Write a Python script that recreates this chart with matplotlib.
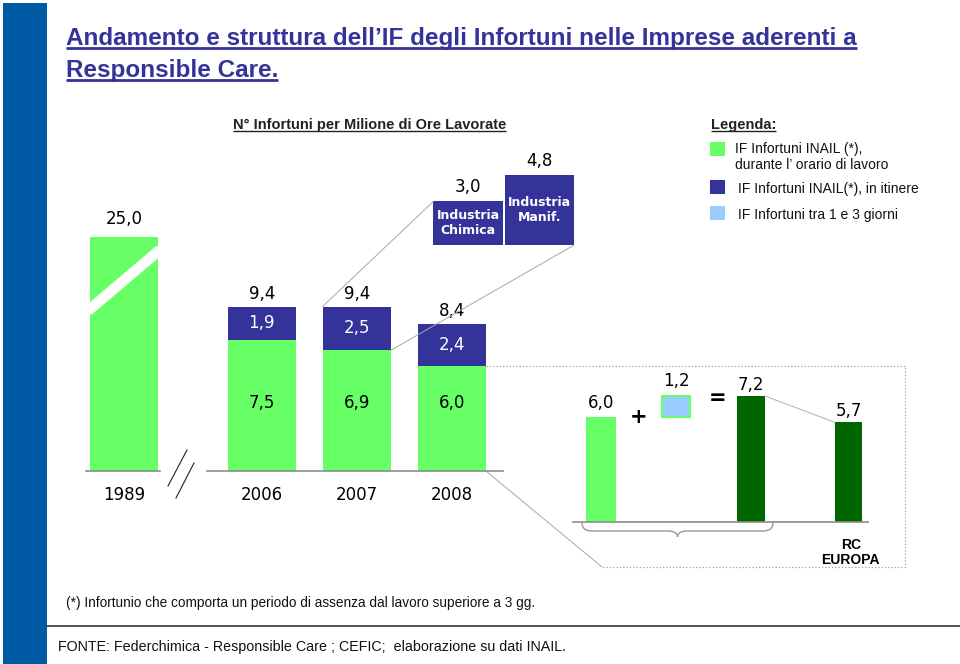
import matplotlib
matplotlib.use("Agg")
import matplotlib.pyplot as plt
from matplotlib.patches import Rectangle, ConnectionPatch, PathPatch
from matplotlib.path import Path

W, H = 960, 664

# --- data -----------------------------------------------------------------
years = ["1989", "2006", "2007", "2008"]
if_lavoro = [25.0, 7.5, 6.9, 6.0]       # IF INAIL durante l'orario di lavoro
if_itinere = [0.0, 1.9, 2.5, 2.4]       # IF INAIL in itinere
settori = ["Industria\nChimica", "Industria\nManif."]
settori_if = [3.0, 4.8]
rc_values = [6.0, 1.2, 7.2, 5.7]        # 2008 lavoro + 1-3 giorni = totale, RC Europa

legend_items = [
    "IF Infortuni INAIL (*),\ndurante l\u2019 orario di lavoro",
    "IF Infortuni INAIL(*), in itinere",
    "IF Infortuni tra 1 e 3 giorni",
]

LGREEN, NAVY, DGREEN, LBLUE = "#66ff66", "#333399", "#006600", "#99ccff"
STRIP, GRAY = "#005ba4", "#8c8c8c"
NUM = dict(family="DejaVu Sans", fontsize=12, ha="center")
NARROW = "Liberation Sans"
S = 17.5  # pixel per unit on the value axis


def fmt(v):
    return f"{v:.1f}".replace(".", ",")


def px_axes(x0, y0, x1, y1):
    a = fig.add_axes([x0 / W, 1 - y1 / H, (x1 - x0) / W, (y1 - y0) / H])
    a.axis("off")
    return a


fig = plt.figure(figsize=(W / 100, H / 100), dpi=100)
ov = fig.add_axes([0, 0, 1, 1])
ov.set_xlim(0, W)
ov.set_ylim(H, 0)
ov.axis("off")

# slide decoration
ov.add_patch(Rectangle((3, 3), 44, H, color=STRIP, lw=0))
ov.plot([47, W], [626, 626], color="#333333", lw=1.2)

titles = [
    ov.text(66, 44.5, "Andamento e struttura dell\u2019IF degli Infortuni nelle Imprese aderenti a",
            family=NARROW, fontsize=17.5, fontweight="bold", color=NAVY, va="baseline"),
    ov.text(66, 76.5, "Responsible Care.", family=NARROW, fontsize=17.5,
            fontweight="bold", color=NAVY, va="baseline"),
]
subs = [
    ov.text(233, 128.5, "N\u00b0 Infortuni per Milione di Ore Lavorate", family=NARROW,
            fontsize=10.5, fontweight="bold", color="#222222", va="baseline"),
    ov.text(711, 128.5, "Legenda:", family=NARROW, fontsize=10.5,
            fontweight="bold", color="#222222", va="baseline"),
]

# legend (multi-line text: baseline refers to the last line)
for (y0, col), (tx, ty), label in zip(
        [(142, LGREEN), (180, NAVY), (206, LBLUE)],
        [(735, 169), (738, 192.5), (738, 219)], legend_items):
    ov.add_patch(Rectangle((710, y0), 15, 14, color=col, lw=0))
    ov.text(tx, ty, label, family=NARROW, fontsize=10, color="#111111",
            va="baseline", linespacing=1.2)

ov.text(66, 603, "(*) Infortunio che comporta un periodo di assenza dal lavoro superiore a 3 gg.",
        family=NARROW, fontsize=9.8, color="#111111", va="center")
ov.text(58, 647, "FONTE: Federchimica - Responsible Care ; CEFIC;  elaborazione su dati INAIL.",
        family=NARROW, fontsize=10.3, color="#111111", va="center")

# --- main bars: 1989, 2006-2008 ---------------------------------------------
ax = px_axes(40, 237, 560, 471)
ax.set_xlim((40 - 124) / 95, (560 - 124) / 95)
ax.set_ylim(0, (471 - 237) / S)
pos = [0, 1.45, 2.45, 3.45]
bw = 0.72
ax.bar(pos, if_lavoro, width=bw, color=LGREEN)
ax.bar(pos[1:], if_itinere[1:], bottom=if_lavoro[1:], width=bw, color=NAVY)

# axis break on the 1989 bar
ax.plot([pos[0] - bw / 2 - 0.02, pos[0] + bw / 2 + 0.02], [9.15, 12.65],
        color="white", lw=7.6, solid_capstyle="butt")
ax.text(pos[0], ax.get_ylim()[1] + 0.5, fmt(if_lavoro[0]), va="bottom", **NUM)

for p, g, n in zip(pos[1:], if_lavoro[1:], if_itinere[1:]):
    ax.text(p, g + n + 0.22, fmt(g + n), va="bottom", **NUM)
    ax.text(p, g + n / 2, fmt(n), va="center", color="white", **NUM)
    ax.text(p, 3.9, fmt(g), va="center", **NUM)
for p, y in zip(pos, years):
    ax.text(p, -1.35, y, va="center", **NUM)

ax.plot([-0.4, 0.38], [0, 0], color=GRAY, lw=1.2, clip_on=False)
ax.plot([0.874, 3.99], [0, 0], color=GRAY, lw=1.2, clip_on=False)
ov.plot([187, 168], [450, 486], color="#222222", lw=0.8)
ov.plot([194, 176], [463, 498], color="#222222", lw=0.8)

# --- inset: itinere by sector -----------------------------------------------
ins = px_axes(420, 150, 590, 245)
ins.set_xlim((420 - 468) / 71.5, (590 - 468) / 71.5)
ins.set_ylim(0, 95 / 14.5)
ipos = [0, 1]
iw = 0.97
ins.bar(ipos, settori_if, width=iw, color=NAVY)
for p, v, s in zip(ipos, settori_if, settori):
    ins.text(p, v + 0.35, fmt(v), va="bottom", **NUM)
    ins.text(p, v / 2, s, ha="center", va="center", color="white",
             family="DejaVu Sans", fontsize=9, fontweight="bold", linespacing=1.2)

for xyA, xyB in [((pos[2] - bw / 2, if_lavoro[2] + if_itinere[2]), (ipos[0] - iw / 2, settori_if[0])),
                 ((pos[2] + bw / 2, if_lavoro[2]), (ipos[1] + iw / 2, 0))]:
    fig.add_artist(ConnectionPatch(xyA, xyB, coordsA=ax.transData, coordsB=ins.transData,
                                   color="#a8a8a8", lw=0.7))

# --- RC Europa panel -----------------------------------------------------------
rc = px_axes(560, 370, 900, 522)
rc.set_xlim((560 - 601) / 75, (900 - 601) / 75)
rc.set_ylim(0, 152 / S)
rpos = [0, 1, 2, 3.3]
rc.bar(rpos[0], rc_values[0], width=0.4, color=LGREEN)
rc.bar(rpos[1], rc_values[1], bottom=rc_values[0], width=0.38, color=LBLUE,
       edgecolor=LGREEN, lw=1.5)
rc.bar(rpos[2:], rc_values[2:], width=0.37, color=DGREEN)
tops = [rc_values[0] + 0.3, rc_values[0] + rc_values[1] + 0.35,
        rc_values[2] + 0.1, rc_values[3] + 0.15]
for p, v, t in zip(rpos, rc_values, tops):
    rc.text(p, t, fmt(v), va="bottom", clip_on=False, **NUM)
rc.text(0.5, 6.0, "+", ha="center", va="center", fontsize=15, fontweight="bold")
rc.text(1.55, 7.1, "=", ha="center", va="center", fontsize=15, fontweight="bold")
rc.plot([rpos[2] + 0.185, rpos[3] - 0.185], rc_values[2:], color="#b0b0b0", lw=0.7)
rc.plot([-0.373, 3.56], [0, 0], color=GRAY, lw=1.2, clip_on=False)
rc.text(rpos[3] + 0.03, -1.75, "RC\nEUROPA", ha="center", va="center", family=NARROW,
        fontsize=10, fontweight="bold", linespacing=1.1)

# callout from the 2008 bar to the RC panel
to_ov = ov.transData.inverted()
tx, ty = to_ov.transform(ax.transData.transform((pos[3] + bw / 2, if_lavoro[3])))
bx, by = to_ov.transform(ax.transData.transform((pos[3] + bw / 2, 0)))
ov.plot([tx, 905, 905, 602], [ty, ty, 567, 567], color="#a0a0a0", lw=0.9, ls=":")
ov.plot([bx, 602], [by, 567], color="#a8a8a8", lw=0.7)

# brace under the 2008 composition
bl, br, bt, bm, tip = 582, 773, 523, 531, 537
mid = (bl + br) / 2
verts = [(bl, bt), (bl, bm), (bl + 10, bm), (mid - 10, bm), (mid, bm), (mid, tip),
         (mid, bm), (mid + 10, bm), (br - 10, bm), (br, bm), (br, bt)]
codes = [Path.MOVETO, Path.CURVE3, Path.CURVE3, Path.LINETO, Path.CURVE3, Path.CURVE3,
         Path.CURVE3, Path.CURVE3, Path.LINETO, Path.CURVE3, Path.CURVE3]
ov.add_patch(PathPatch(Path(verts, codes), fill=False, edgecolor="#999999", lw=1.0))

# underlines for title and headings
fig.canvas.draw()
renderer = fig.canvas.get_renderer()
for t, off, lw, col in [(titles[0], 3, 2.0, NAVY), (titles[1], 3, 2.0, NAVY),
                        (subs[0], 2.5, 1.0, "#222222"), (subs[1], 2.5, 1.0, "#222222")]:
    bb = t.get_window_extent(renderer)
    y = t.get_position()[1] + off
    ov.plot([bb.x0, bb.x1], [y, y], color=col, lw=lw, solid_capstyle="butt")

fig.savefig("out.png", dpi=100)
